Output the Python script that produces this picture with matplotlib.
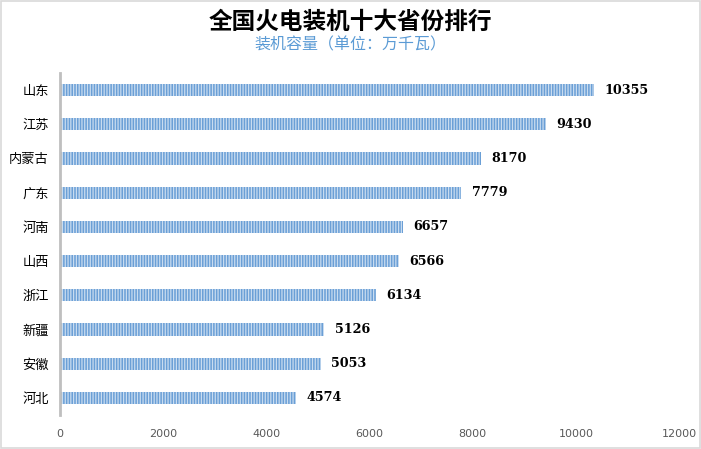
import matplotlib
matplotlib.use("Agg")
import matplotlib.pyplot as plt
from matplotlib.patches import Rectangle

plt.rcParams['font.family'] = ['Noto Sans CJK SC', 'DejaVu Sans']
plt.rcParams['hatch.linewidth'] = 0.9

provinces = ["山东", "江苏", "内蒙古", "广东", "河南", "山西", "浙江", "新疆", "安徽", "河北"]
values = [10355, 9430, 8170, 7779, 6657, 6566, 6134, 5126, 5053, 4574]
xticks = [0, 2000, 4000, 6000, 8000, 10000, 12000]
title = "全国火电装机十大省份排行"
subtitle = "装机容量（单位：万千瓦）"

fig = plt.figure(figsize=(7.01, 4.49), dpi=100)
ax = fig.add_axes([60/701, 1-415/449, (679-60)/701, 342/449])

ypos = list(range(len(provinces)))
bars = ax.barh(ypos, values, height=0.36, color="#6a9fd6", edgecolor="#c9dcf0",
               hatch="||||||", linewidth=0)
ax.set_ylim(len(provinces)-0.5, -0.5)
ax.set_xlim(0, 12000)
ax.set_yticks(ypos)
ax.set_yticklabels(provinces, fontsize=9.5, color="black")
ax.set_xticks(xticks)
ax.set_xticklabels([str(t) for t in xticks], fontsize=8, color="#595959",
                   family=['DejaVu Sans'])
ax.tick_params(axis='both', length=0)
ax.tick_params(axis='x', pad=10)
ax.tick_params(axis='y', pad=8)
for s in ["top", "right", "bottom"]:
    ax.spines[s].set_visible(False)
ax.spines["left"].set_color("#bfbfbf")
ax.spines["left"].set_linewidth(2)

for y, v in zip(ypos, values):
    ax.text(v + 200, y, str(v), va="center", ha="left", fontsize=9.2,
            fontweight="bold", family=["DejaVu Serif"], color="black")

fig.text(0.5, 1-22/449, title, ha="center", va="center", fontsize=17,
         fontweight="bold", color="black")
fig.text(0.5, 1-45/449, subtitle, ha="center", va="center", fontsize=11.5,
         color="#5b9bd5")

fig.patches.append(Rectangle((0.001, 0.002), 0.997, 0.996, transform=fig.transFigure,
                             fill=False, edgecolor="#d9d9d9", linewidth=1.2))

fig.savefig("out.png", dpi=100, facecolor="white")
